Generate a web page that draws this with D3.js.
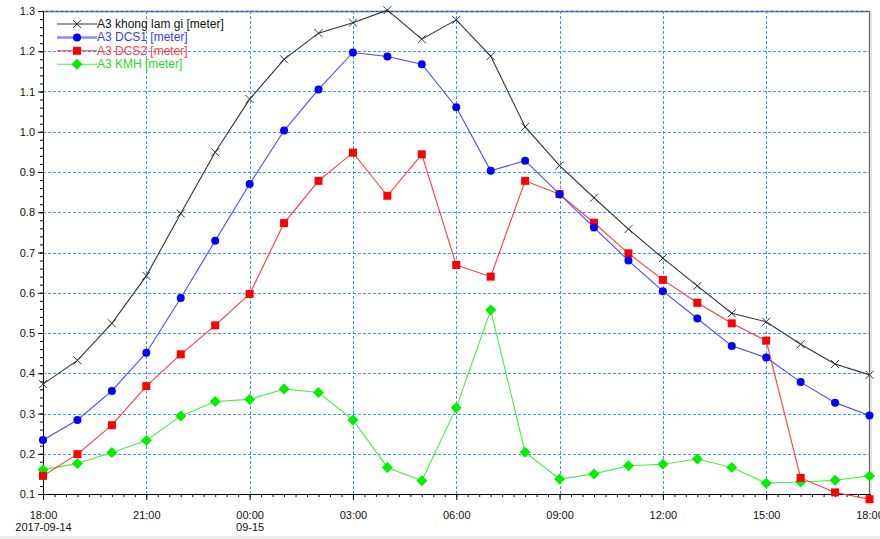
<!DOCTYPE html>
<html>
<head>
<meta charset="utf-8">
<script src="https://cdn.jsdelivr.net/npm/d3@7"></script>
<style>
  html, body { margin: 0; padding: 0; background: #fff; }
  svg { display: block; font-family: "Liberation Sans", Arial, sans-serif; }
</style>
</head>
<body>
<svg id="chart" width="880" height="539"></svg>
<script>
// hourly readings, 2017-09-14 18:00 .. 2017-09-15 18:00
const times = [
  "2017-09-14 18:00", "2017-09-14 19:00", "2017-09-14 20:00", "2017-09-14 21:00",
  "2017-09-14 22:00", "2017-09-14 23:00", "2017-09-15 00:00", "2017-09-15 01:00",
  "2017-09-15 02:00", "2017-09-15 03:00", "2017-09-15 04:00", "2017-09-15 05:00",
  "2017-09-15 06:00", "2017-09-15 07:00", "2017-09-15 08:00", "2017-09-15 09:00",
  "2017-09-15 10:00", "2017-09-15 11:00", "2017-09-15 12:00", "2017-09-15 13:00",
  "2017-09-15 14:00", "2017-09-15 15:00", "2017-09-15 16:00", "2017-09-15 17:00",
  "2017-09-15 18:00"
];
const khongLamGi = [0.373, 0.432, 0.524, 0.642, 0.797, 0.949, 1.081, 1.180, 1.245, 1.271, 1.302, 1.230, 1.278,
  1.188, 1.012, 0.916, 0.836, 0.758, 0.686, 0.617, 0.549, 0.528, 0.472, 0.423, 0.396];
const dcs1 = [0.234, 0.284, 0.356, 0.451, 0.587, 0.729, 0.870, 1.003, 1.105, 1.197, 1.187, 1.168, 1.061,
  0.903, 0.928, 0.845, 0.762, 0.680, 0.604, 0.536, 0.468, 0.439, 0.378, 0.327, 0.295];
const dcs2 = [0.145, 0.199, 0.271, 0.368, 0.447, 0.519, 0.597, 0.773, 0.878, 0.948, 0.841, 0.944, 0.669,
  0.640, 0.878, 0.845, 0.774, 0.698, 0.632, 0.575, 0.524, 0.481, 0.140, 0.104, 0.087];
const kmh = [0.160, 0.176, 0.203, 0.233, 0.294, 0.330, 0.335, 0.361, 0.352, 0.284, 0.166, 0.133, 0.314,
  0.557, 0.204, 0.137, 0.150, 0.170, 0.174, 0.187, 0.166, 0.127, 0.130, 0.134, 0.145];
const yTicks = [0.1, 0.2, 0.3, 0.4, 0.5, 0.6, 0.7, 0.8, 0.9, 1.0, 1.1, 1.2, 1.3];

const series = [
  { name: "A3 khong lam gi [meter]", values: khongLamGi, line: "#333", mark: "cross", fill: "#333", text: "#111" },
  { name: "A3 DCS1 [meter]", values: dcs1, line: "#4a4aff", mark: "circle", fill: "#0000ff", text: "#3a3aff" },
  { name: "A3 DCS2 [meter]", values: dcs2, line: "#ff3a3a", mark: "square", fill: "#ff0000", text: "#ff4040" },
  { name: "A3 KMH [meter]", values: kmh, line: "#44f044", mark: "diamond", fill: "#00ee00", text: "#22dd22" }
];

const parse = d3.timeParse("%Y-%m-%d %H:%M");
const dates = times.map(parse);

const svg = d3.select("#chart");
const plotLeft = 43, plotRight = 869.5, plotTop = 11, plotBottom = 494;

const x = d3.scaleTime().domain(d3.extent(dates)).range([plotLeft, plotRight]);
const y = d3.scaleLinear().domain([0.1, 1.3]).range([plotBottom, plotTop]);

// bottom strip
svg.append("rect").attr("x", 0).attr("y", 536).attr("width", 880).attr("height", 3).attr("fill", "#ececec");

// frame top / right
svg.append("line").attr("x1", plotLeft).attr("x2", plotRight).attr("y1", plotTop + 0.5).attr("y2", plotTop + 0.5)
  .attr("stroke", "#444").attr("stroke-width", 1.5);
svg.append("line").attr("x1", plotRight).attr("x2", plotRight).attr("y1", plotTop).attr("y2", plotBottom)
  .attr("stroke", "#666").attr("stroke-width", 1.2);
svg.append("line").attr("x1", plotRight + 1.5).attr("x2", plotRight + 1.5).attr("y1", plotTop).attr("y2", plotBottom)
  .attr("stroke", "#ccc").attr("stroke-width", 1);

// grid
const xMajor = d3.timeHour.every(3).range(dates[0], d3.timeMinute.offset(dates[dates.length - 1], 1));
const grid = svg.append("g").attr("stroke", "#3b97f5").attr("stroke-width", 1).attr("stroke-dasharray", "3,2");
grid.selectAll("line.h").data(yTicks).join("line")
  .attr("x1", plotLeft).attr("x2", plotRight)
  .attr("y1", d => Math.round(y(d)) + 0.5).attr("y2", d => Math.round(y(d)) + 0.5);
grid.selectAll("line.v").data(xMajor.slice(1, -1)).join("line")
  .attr("x1", d => Math.round(x(d)) + 0.5).attr("x2", d => Math.round(x(d)) + 0.5)
  .attr("y1", plotTop).attr("y2", plotBottom);

// axes
const yAxis = svg.append("g").attr("transform", `translate(${plotLeft},0)`)
  .call(d3.axisLeft(y).tickValues(yTicks).tickFormat(d3.format(".1f")).tickSize(5).tickPadding(3));
const yMinor = d3.range(10, 131, 2).map(v => v / 100);
svg.append("g").attr("transform", `translate(${plotLeft},0)`)
  .call(d3.axisLeft(y).tickValues(yMinor).tickSize(3).tickFormat(""))
  .call(g => g.select(".domain").remove());

const xAxis = svg.append("g").attr("transform", `translate(0,${plotBottom})`)
  .call(d3.axisBottom(x).tickValues(xMajor).tickFormat(d3.timeFormat("%H:%M")).tickSize(6).tickPadding(11));
const xMinor = d3.timeMinute.every(20).range(dates[0], d3.timeMinute.offset(dates[dates.length - 1], 1));
svg.append("g").attr("transform", `translate(0,${plotBottom})`)
  .call(d3.axisBottom(x).tickValues(xMinor).tickSize(3).tickFormat(""))
  .call(g => g.select(".domain").remove());

[yAxis, xAxis].forEach(g => {
  g.select(".domain").attr("stroke", "#000");
  g.selectAll("text").attr("font-size", 11).attr("fill", "#111")
    .attr("font-family", "'Liberation Sans', Arial, sans-serif");
});
svg.selectAll(".tick line").attr("stroke", "#000");

const dateLabel = d3.timeFormat("%Y-%m-%d");
xAxis.selectAll(".tick text").each(function (d, i) {
  let sub = null;
  if (i === 0) sub = dateLabel(d);
  else if (d.getHours() === 0) sub = d3.timeFormat("%m-%d")(d);
  if (sub) {
    d3.select(this).append("tspan").attr("x", 0).attr("dy", "1.15em").text(sub);
  }
});

// series lines and markers
const line = d3.line().x((d, i) => x(dates[i])).y(d => y(d));

function drawMarker(g, type, cx, cy, s) {
  if (type === "circle") {
    g.append("circle").attr("cx", cx).attr("cy", cy).attr("r", 4).attr("fill", s.fill);
  } else if (type === "square") {
    g.append("rect").attr("x", cx - 4).attr("y", cy - 4).attr("width", 8).attr("height", 8).attr("fill", s.fill);
  } else if (type === "diamond") {
    g.append("path").attr("d", `M${cx},${cy - 5.5}L${cx + 5.5},${cy}L${cx},${cy + 5.5}L${cx - 5.5},${cy}Z`)
      .attr("fill", s.fill);
  } else {
    g.append("path").attr("d", `M${cx - 4},${cy - 4}L${cx + 4},${cy + 4}M${cx - 4},${cy + 4}L${cx + 4},${cy - 4}`)
      .attr("stroke", s.fill).attr("stroke-width", 1).attr("fill", "none");
  }
}

series.slice().reverse().forEach(s => {
  const g = svg.append("g");
  g.append("path").datum(s.values).attr("d", line)
    .attr("fill", "none").attr("stroke", s.line).attr("stroke-width", 1.1);
  s.values.forEach((v, i) => drawMarker(g, s.mark, x(dates[i]), y(v), s));
});

// legend
const legend = svg.append("g");
series.forEach((s, i) => {
  const ly = 24 + i * 13.4;
  legend.append("line").attr("x1", 57).attr("x2", 97).attr("y1", ly).attr("y2", ly)
    .attr("stroke", s.mark === "circle" ? "#8a8aff" : s.line)
    .attr("stroke-width", s.mark === "circle" ? 2.5 : 1.1);
  drawMarker(legend, s.mark, 77, ly, s);
  legend.append("text").attr("x", 97).attr("y", ly + 4).attr("font-size", 12)
    .attr("fill", s.text).text(s.name);
});
</script>
</body>
</html>
